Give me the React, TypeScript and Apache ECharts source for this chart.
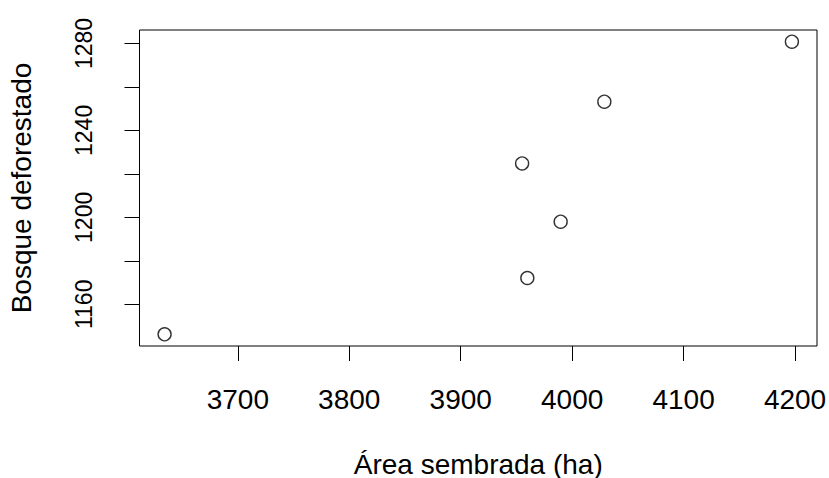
import React, { useEffect, useRef } from "react";
import * as echarts from "echarts";

const areaSembrada = [3634.3, 3959.8, 3989.7, 3955.1, 4028.9, 4197.2];
const bosqueDeforestado = [1146.2, 1172.1, 1198.0, 1224.8, 1253.2, 1280.8];
const xTicks = [3700, 3800, 3900, 4000, 4100, 4200];
const yTicks = [1160, 1180, 1200, 1220, 1240, 1260, 1280];
const yLabels = [1160, 1200, 1240, 1280];
const xTitle = "Área sembrada (ha)";
const yTitle = "Bosque deforestado";

function rRange(vals: number[]) {
  const lo = Math.min(...vals);
  const hi = Math.max(...vals);
  const ext = (hi - lo) * 0.04;
  return [lo - ext, hi + ext];
}

export default function App() {
  const ref = useRef<HTMLDivElement>(null);
  useEffect(() => {
    if (!ref.current) return;
    const chart = echarts.init(ref.current, undefined, { renderer: "svg" });
    const [xmin, xmax] = rRange(areaSembrada);
    const [ymin, ymax] = rRange(bosqueDeforestado);
    const font = "'Liberation Sans', Arial, sans-serif";
    chart.setOption({
      animation: false,
      backgroundColor: "#ffffff",
      grid: {
        left: 139.5,
        right: 12,
        top: 30,
        bottom: 132,
        containLabel: false,
        outerBoundsMode: "none",
        show: true,
        borderColor: "#000",
        borderWidth: 1,
        backgroundColor: "transparent",
      },
      xAxis: {
        type: "value",
        min: xmin,
        max: xmax,
        name: xTitle,
        nameLocation: "middle",
        nameGap: 104,
        nameTextStyle: { fontFamily: font, fontSize: 28, color: "#000" },
        axisLine: { show: false },
        splitLine: { show: false },
        axisTick: {
          show: true,
          inside: false,
          length: 15,
          customValues: xTicks,
          lineStyle: { color: "#000", width: 1 },
        },
        axisLabel: {
          customValues: xTicks,
          formatter: (v: number) => String(v),
          margin: 39,
          fontFamily: font,
          fontSize: 28,
          color: "#000",
        },
      },
      yAxis: {
        type: "value",
        min: ymin,
        max: ymax,
        name: yTitle,
        nameLocation: "middle",
        nameGap: 104,
        nameRotate: 90,
        nameTextStyle: { fontFamily: font, fontSize: 28, color: "#000" },
        axisLine: { show: false },
        splitLine: { show: false },
        axisTick: {
          show: true,
          inside: false,
          length: 15,
          customValues: yTicks,
          lineStyle: { color: "#000", width: 1 },
        },
        axisLabel: {
          customValues: yLabels,
          formatter: (v: number) => String(v),
          rotate: 90,
          margin: 44,
          fontFamily: font,
          fontSize: 23,
          color: "#000",
        },
      },
      series: [
        {
          type: "scatter",
          data: areaSembrada.map((x, i) => [x, bosqueDeforestado[i]]),
          symbol: "circle",
          symbolSize: 13,
          itemStyle: {
            color: "transparent",
            borderColor: "#000",
            borderWidth: 1.4,
          },
        },
      ],
    });
    return () => chart.dispose();
  }, []);
  return (
    <div
      ref={ref}
      style={{ position: "fixed", left: 0, top: 0, width: 829, height: 478 }}
    />
  );
}
